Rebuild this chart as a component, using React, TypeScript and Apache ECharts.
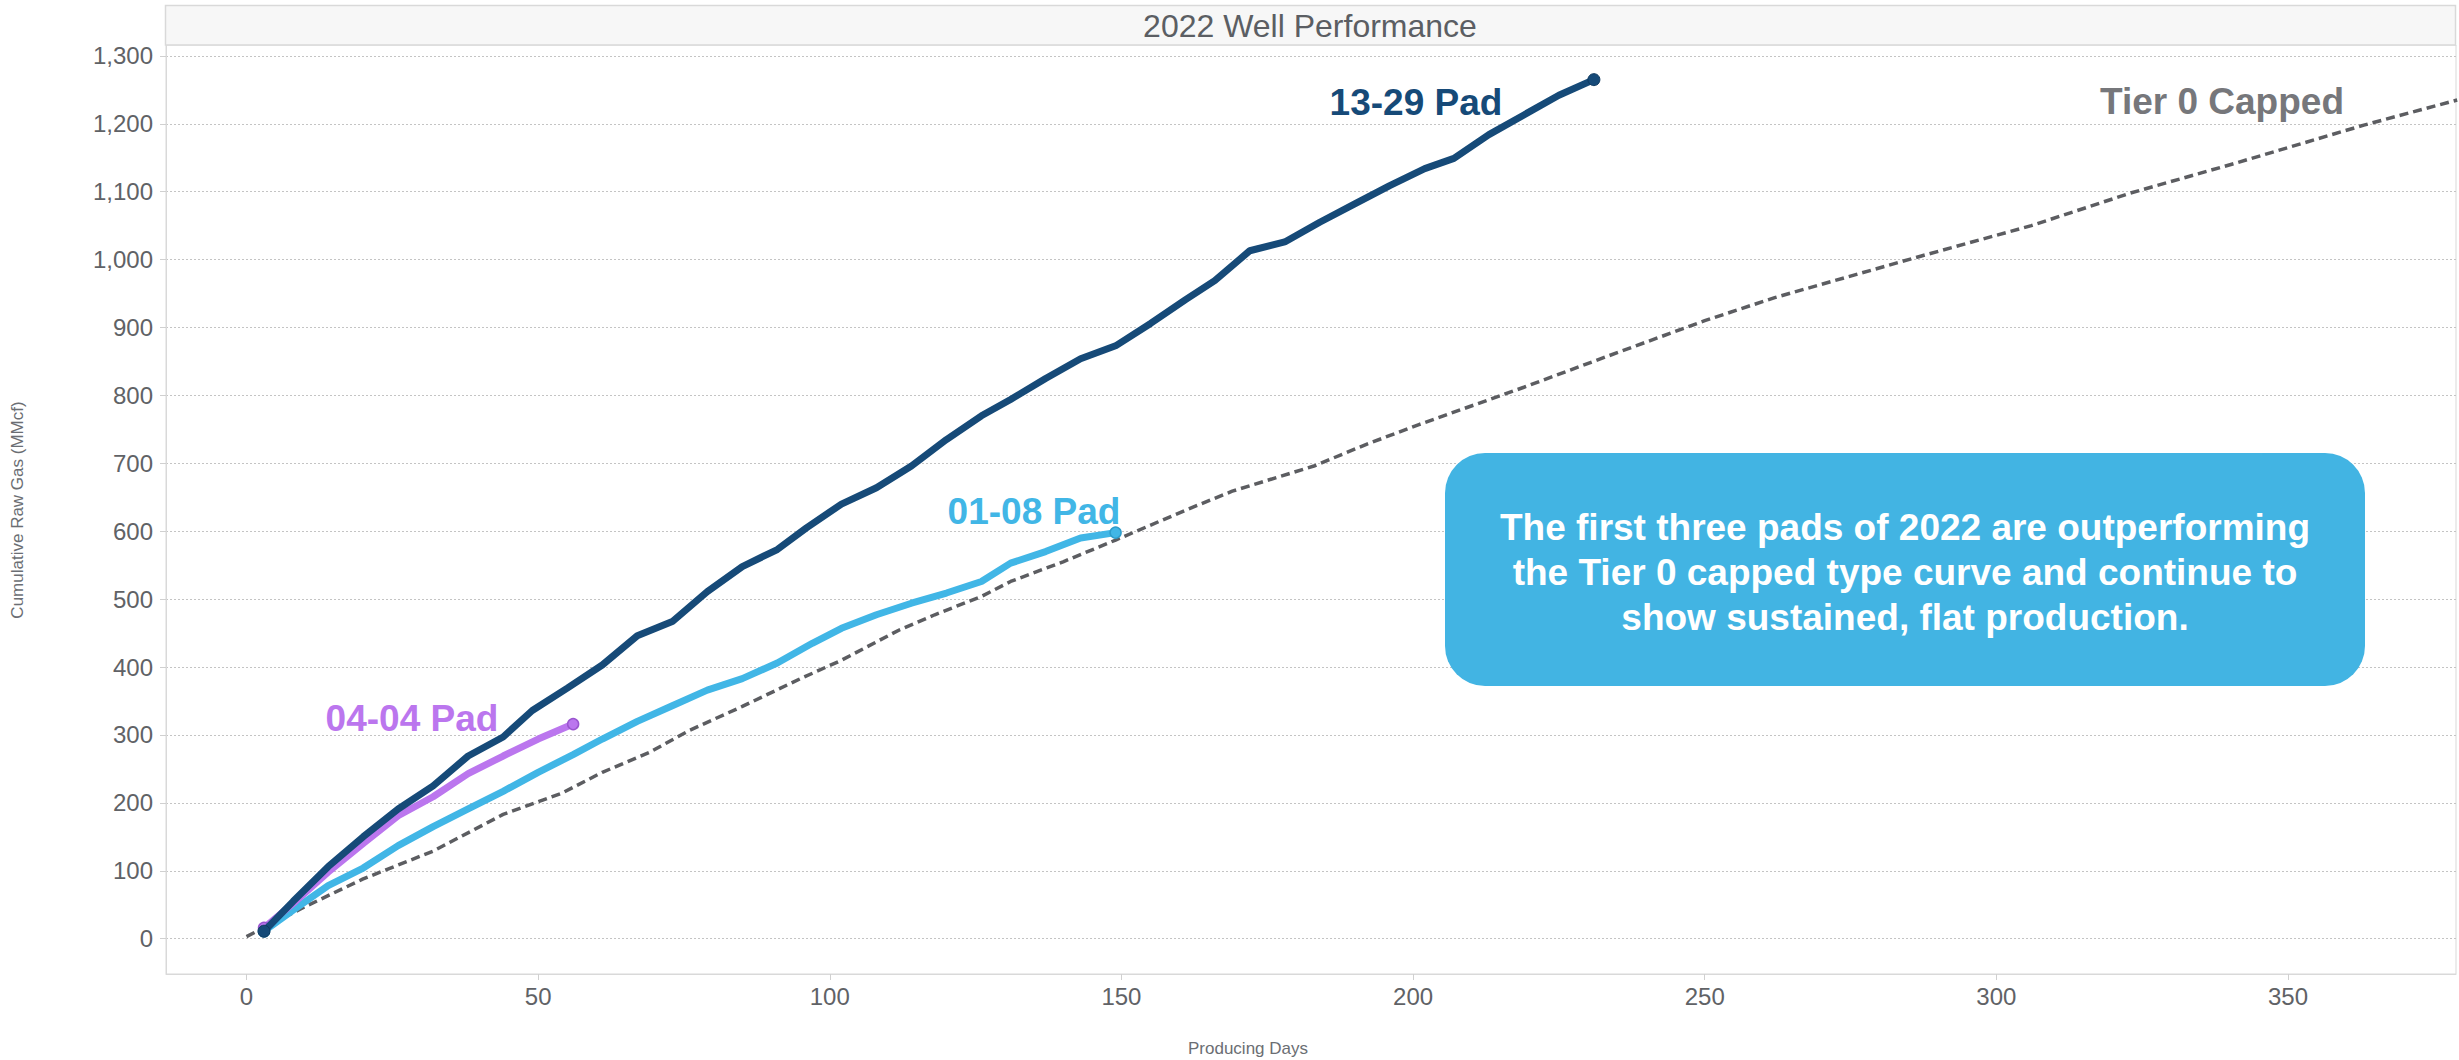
import React, { useEffect, useRef } from "react";
import * as echarts from "echarts";

const chartTitle = "2022 Well Performance";
const xAxisTitle = "Producing Days";
const yAxisTitle = "Cumulative Raw Gas (MMcf)";

const xTickValues = [0, 50, 100, 150, 200, 250, 300, 350];
const yTickValues = [0, 100, 200, 300, 400, 500, 600, 700, 800, 900, 1000, 1100, 1200, 1300];

const seriesNames = ["Tier 0 Capped", "01-08 Pad", "04-04 Pad", "13-29 Pad"];

const tier0Days = [0, 10, 20, 32, 44, 54, 61, 69, 76, 85, 95, 102, 112, 118, 126, 131, 140, 149, 161, 169, 183, 192, 201, 219, 235, 250, 262, 287, 306, 323, 341, 363, 379];
const tier0Values = [3, 47, 88, 129, 183, 214, 245, 274, 307, 342, 383, 410, 455, 477, 504, 526, 555, 587, 631, 659, 696, 728, 757, 812, 863, 910, 944, 1005, 1050, 1098, 1142, 1198, 1235];

const pad0108Days = [3, 8, 14, 20, 26, 32, 38, 44, 50, 56, 61, 67, 73, 79, 85, 91, 97, 102, 108, 114, 120, 126, 131, 137, 143, 149];
const pad0108Values = [11, 42, 78, 104, 137, 165, 191, 217, 245, 271, 294, 320, 343, 366, 383, 406, 435, 457, 477, 494, 509, 526, 553, 570, 590, 598];

const pad0404Days = [3, 8, 14, 20, 26, 32, 38, 44, 50, 56];
const pad0404Values = [16, 52, 98, 140, 181, 209, 243, 269, 294, 316];

const pad1329Days = [3, 8, 14, 20, 26, 32, 38, 44, 49, 55, 61, 67, 73, 79, 85, 91, 96, 102, 108, 114, 120, 126, 131, 137, 143, 149, 155, 161, 166, 172, 178, 184, 190, 196, 202, 207, 213, 219, 225, 231];
const pad1329Values = [11, 55, 106, 150, 191, 225, 269, 297, 336, 369, 403, 446, 467, 511, 548, 573, 605, 640, 664, 696, 735, 770, 794, 825, 854, 873, 906, 941, 969, 1013, 1026, 1055, 1082, 1109, 1134, 1149, 1184, 1213, 1242, 1265];

const calloutLines = [
  "The first three pads of 2022 are outperforming",
  "the Tier 0 capped type curve and continue to",
  "show sustained, flat production.",
];

const FONT = '"Liberation Sans", Arial, Helvetica, sans-serif';

export default function App() {
  const ref = useRef<HTMLDivElement>(null);

  useEffect(() => {
    document.body.style.margin = "0";
    const chart = echarts.init(ref.current as HTMLDivElement, null, { renderer: "svg" });

    const zip = (d: number[], v: number[]) => d.map((x, i) => [x, v[i]]);
    const endSymbols = (n: number, size: number) => (_v: any, p: any) =>
      p.dataIndex === 0 || p.dataIndex === n - 1 ? size : 0;

    const padLabel = (text: string, x: number, y: number, color: string) => ({
      type: "text",
      x,
      y,
      z: 20,
      style: {
        text,
        fill: color,
        font: `bold 37px ${FONT}`,
        textAlign: "center",
        textVerticalAlign: "middle",
      },
    });

    chart.setOption({
      animation: false,
      backgroundColor: "#ffffff",
      grid: {
        left: 166,
        right: 3,
        top: 45,
        bottom: 86,
        show: true,
        borderColor: "#d9d9d9",
        borderWidth: 1,
        backgroundColor: "transparent",
      },
      xAxis: {
        type: "value",
        min: -13.8,
        max: 378.8,
        splitNumber: 8,
        axisLine: { show: true, onZero: false, lineStyle: { color: "#d9d9d9" } },
        axisTick: { show: true, length: 6, lineStyle: { color: "#d0d0d0" }, customValues: xTickValues },
        axisLabel: {
          customValues: xTickValues,
          margin: 10,
          color: "#606266",
          fontSize: 24,
          fontFamily: FONT,
        },
        splitLine: { show: false },
      },
      yAxis: {
        type: "value",
        min: -52,
        max: 1316,
        splitNumber: 14,
        axisLine: { show: true, onZero: false, lineStyle: { color: "#d9d9d9" } },
        axisTick: { show: true, length: 6, lineStyle: { color: "#d0d0d0" }, customValues: yTickValues },
        axisLabel: {
          customValues: yTickValues,
          margin: 13,
          color: "#606266",
          fontSize: 24,
          fontFamily: FONT,
          formatter: (v: number) => v.toLocaleString("en-US"),
        },
        splitLine: { show: true, lineStyle: { color: "#c4c4c4", type: [2, 2], width: 1 } },
      },
      series: [
        {
          name: seriesNames[0],
          type: "line",
          data: zip(tier0Days, tier0Values),
          showSymbol: false,
          symbol: "none",
          lineStyle: { color: "#5c5d61", width: 3.5, type: [9, 5] },
          z: 2,
        },
        {
          name: seriesNames[1],
          type: "line",
          data: zip(pad0108Days, pad0108Values),
          symbol: "circle",
          showAllSymbol: true,
          symbolSize: endSymbols(pad0108Days.length, 11),
          lineStyle: { color: "#41b6e6", width: 7 },
          itemStyle: { color: "#41b6e6", borderColor: "#2d9ccb", borderWidth: 1.5 },
          z: 3,
        },
        {
          name: seriesNames[2],
          type: "line",
          data: zip(pad0404Days, pad0404Values),
          symbol: "circle",
          showAllSymbol: true,
          symbolSize: endSymbols(pad0404Days.length, 11),
          lineStyle: { color: "#bb76ee", width: 7 },
          itemStyle: { color: "#bb76ee", borderColor: "#9a55cf", borderWidth: 1.5 },
          z: 4,
        },
        {
          name: seriesNames[3],
          type: "line",
          data: zip(pad1329Days, pad1329Values),
          symbol: "circle",
          showAllSymbol: true,
          symbolSize: endSymbols(pad1329Days.length, 12),
          lineStyle: { color: "#164a78", width: 7 },
          itemStyle: { color: "#164a78", borderColor: "#0f3a60", borderWidth: 1 },
          z: 5,
        },
      ],
      graphic: [
        {
          type: "rect",
          z: 10,
          shape: { x: 165.5, y: 5.5, width: 2290, height: 39.5 },
          style: { fill: "#f7f7f7", stroke: "#d9d9d9", lineWidth: 1.5 },
        },
        {
          type: "text",
          z: 11,
          x: 1310,
          y: 26,
          style: {
            text: chartTitle,
            fill: "#5b5e63",
            font: `32px ${FONT}`,
            textAlign: "center",
            textVerticalAlign: "middle",
          },
        },
        {
          type: "text",
          z: 11,
          x: 17,
          y: 510,
          rotation: Math.PI / 2,
          style: {
            text: yAxisTitle,
            fill: "#6b6e73",
            font: `17px ${FONT}`,
            textAlign: "center",
            textVerticalAlign: "middle",
          },
        },
        {
          type: "text",
          z: 11,
          x: 1248,
          y: 1048,
          style: {
            text: xAxisTitle,
            fill: "#6b6e73",
            font: `17px ${FONT}`,
            textAlign: "center",
            textVerticalAlign: "middle",
          },
        },
        padLabel(seriesNames[3], 1416, 102, "#164a78"),
        padLabel(seriesNames[1], 1034, 511, "#41b6e6"),
        padLabel(seriesNames[2], 412, 718, "#bb76ee"),
        padLabel(seriesNames[0], 2222, 101, "#76777b"),
        {
          type: "rect",
          z: 15,
          shape: { x: 1445, y: 453, width: 920, height: 233, r: 40 },
          style: { fill: "#42b4e3" },
        },
        {
          type: "text",
          z: 16,
          x: 1905,
          y: 572,
          style: {
            text: calloutLines.join("\n"),
            fill: "#ffffff",
            font: `bold 37px ${FONT}`,
            lineHeight: 45,
            textAlign: "center",
            textVerticalAlign: "middle",
          },
        },
      ],
    });

    return () => chart.dispose();
  }, []);

  return <div ref={ref} style={{ width: 2459, height: 1060 }} />;
}
